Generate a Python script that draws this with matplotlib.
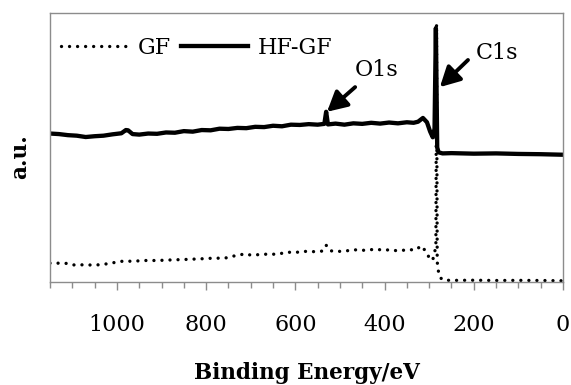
import matplotlib
matplotlib.use("Agg")
import matplotlib.pyplot as plt
from matplotlib.ticker import MultipleLocator

# ---- data (binding energy in eV, intensity in a.u.) ----
gf_energy = [1150, 1130, 1110, 1095, 1075, 1055, 1040, 1025, 1000, 985, 965, 940,
             910, 880, 845, 815, 780, 760, 740, 712, 700, 680, 660, 640, 620, 600,
             580, 560, 540, 531, 522, 500, 485, 470, 445, 420, 400, 390, 375, 362,
             350, 340, 330, 318, 306, 298, 292, 285, 283.5, 282, 280, 276, 268,
             240, 200, 150, 100, 50, 0]
gf_value = [6.9, 6.9, 6.8, 6.2, 6.3, 6.2, 6.3, 6.6, 7.3, 7.7, 7.6, 7.9,
            7.9, 8.1, 8.3, 8.5, 8.8, 8.7, 9.5, 10.4, 9.9, 10.1, 10.3, 10.2, 11.0, 10.9,
            11.3, 11.2, 11.4, 13.6, 11.5, 11.3, 11.5, 11.9, 11.7, 12.1, 11.7, 11.9, 11.6, 11.8,
            11.6, 11.9, 11.8, 13.4, 11.0, 8.2, 8.1, 13.0, 96.0, 7.5, 4.4, 1.6, 0.55,
            0.5, 0.55, 0.45, 0.5, 0.45, 0.35]

hf_energy = [1150, 1130, 1110, 1090, 1070, 1050, 1030, 1010, 990, 980, 975, 965,
             950, 930, 910, 890, 870, 850, 830, 810, 790, 770, 750, 730, 710, 690,
             670, 650, 630, 610, 590, 570, 550, 535, 531, 527, 510, 490, 470, 450,
             430, 410, 390, 370, 350, 335, 325, 314, 305, 298, 292, 288, 285, 282,
             279, 270, 250, 200, 150, 100, 50, 0]
hf_value = [55.2, 55.0, 54.6, 54.4, 53.9, 54.2, 54.4, 54.9, 55.3, 56.5, 56.4, 55.0,
            54.8, 55.2, 55.1, 55.6, 55.5, 56.1, 55.9, 56.5, 56.4, 57.0, 56.9, 57.3, 57.2, 57.7,
            57.6, 58.1, 57.9, 58.5, 58.4, 58.7, 58.5, 58.8, 63.3, 58.6, 58.9, 58.5, 59.0, 58.8,
            59.2, 58.9, 59.3, 59.0, 59.4, 59.2, 59.6, 61.0, 59.4, 56.0, 53.8, 57.0, 94.5, 50.0,
            48.2, 47.8, 47.9, 47.7, 47.8, 47.6, 47.5, 47.3]

series_labels = ["GF", "HF-GF"]
peak_labels = ["O1s", "C1s"]
major_ticks = [1000, 800, 600, 400, 200, 0]

# ---- figure ----
plt.rcParams['font.family'] = ['DejaVu Serif']
fig = plt.figure(figsize=(5.71, 3.85), dpi=100)
ax = fig.add_axes([0.0876, 0.2683, 0.8984, 0.6972])

ax.plot(gf_energy, gf_value, color='black', lw=2.4,
        linestyle=(0, (0.01, 2.4)), dash_capstyle='round', label=series_labels[0])
ax.plot(hf_energy, hf_value, color='black', lw=3.1,
        solid_joinstyle='round', label=series_labels[1])

ax.set_xlim(1150, 0)
ax.set_ylim(0, 100)
ax.set_xticks(major_ticks)
ax.xaxis.set_minor_locator(MultipleLocator(50))
ax.set_yticks([])

for s in ax.spines.values():
    s.set_color('#8c8c8c')
    s.set_linewidth(1.0)

ax.tick_params(axis='x', which='major', direction='out', length=6, width=1.0,
               color='#8c8c8c', labelsize=16, pad=17)
ax.tick_params(axis='x', which='minor', direction='out', length=4, width=1.0,
               color='#8c8c8c')

ax.set_xlabel("Binding Energy/eV", fontsize=15.5, fontweight='bold')
ax.xaxis.label.set_verticalalignment('baseline')
ax.xaxis.set_label_coords(0.5, -0.362)
ax.set_ylabel("a.u.", fontsize=15.5, fontweight='bold')
ax.yaxis.set_label_coords(-0.058, 0.465)
ax.yaxis.label.set_verticalalignment('center')

leg = ax.legend(loc='center left', bbox_to_anchor=(0.021, 0.872), ncol=2,
                frameon=False, fontsize=16, handlelength=3.05, handletextpad=0.4,
                columnspacing=0.45, borderpad=0, borderaxespad=0)

# annotations
arrow_style = dict(arrowstyle='-|>,head_length=0.6,head_width=0.32',
                   color='black', lw=2.8, mutation_scale=20,
                   shrinkA=0, shrinkB=0)
ax.annotate('', xy=(529, 63.3), xytext=(466, 72.5), arrowprops=arrow_style)
ax.text(417, 78.9, peak_labels[0], fontsize=16, ha='center', va='center')
ax.annotate('', xy=(276, 72.5), xytext=(213, 82.6), arrowprops=arrow_style)
ax.text(148, 85.2, peak_labels[1], fontsize=16, ha='center', va='center')

fig.savefig("out.png", dpi=100)
